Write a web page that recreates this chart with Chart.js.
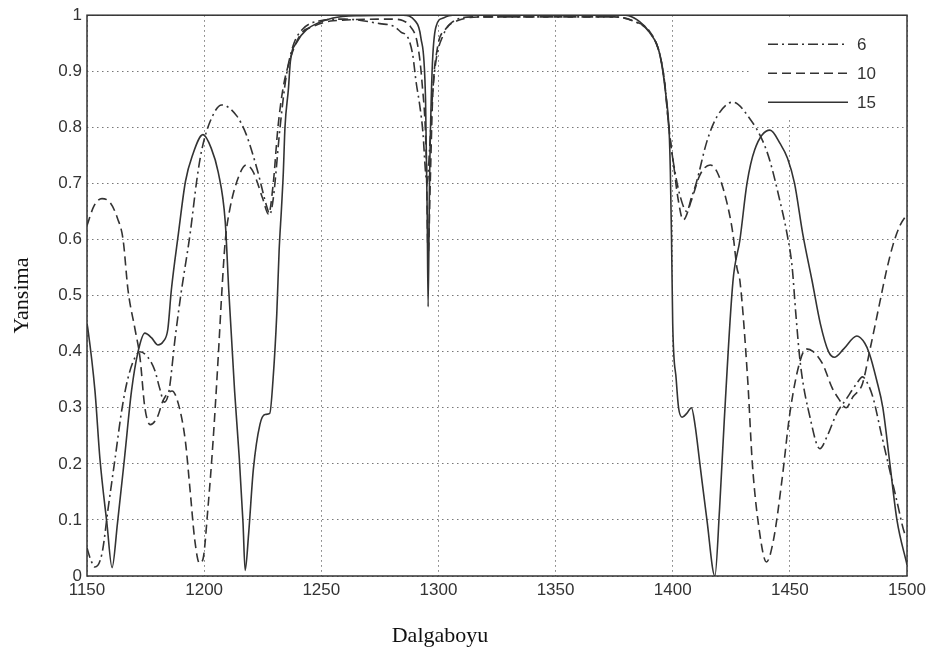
<!DOCTYPE html>
<html>
<head>
<meta charset="utf-8">
<script src="https://cdn.jsdelivr.net/npm/chart.js@4.4.1/dist/chart.umd.min.js"></script>
<style>
    html, body { margin: 0; padding: 0; background: #fff; }
    #wrap { width: 937px; height: 662px; position: relative; }
</style>
</head>
<body>
<div id="wrap"><canvas id="reflChart"></canvas></div>
<script>
    // ============================
    // Data
    // ============================
    const xTicks = [1150, 1200, 1250, 1300, 1350, 1400, 1450, 1500];
    const yTicks = [0, 0.1, 0.2, 0.3, 0.4, 0.5, 0.6, 0.7, 0.8, 0.9, 1];
    const seriesLabels = ["6", "10", "15"];

    // N = 6 (dash-dot)
    const wl6 = [1150, 1151.5, 1153.4, 1156.4, 1159, 1162, 1165, 1167.5, 1170.5, 1172.6, 1176, 1179, 1181, 1183, 1185, 1187.5, 1190, 1194, 1197, 1199, 1202.5, 1207.5, 1214, 1218, 1222.5, 1227, 1228, 1229.5, 1232.4, 1235, 1238, 1242, 1249.5, 1260, 1275, 1281, 1284, 1287, 1289, 1290.5, 1292, 1293.4, 1294.5, 1295.2, 1296.2, 1297.5, 1299, 1302, 1306, 1315, 1375, 1383, 1390, 1394.5, 1396.7, 1398, 1399.5, 1401, 1403, 1406, 1408, 1410, 1414.6, 1419, 1425.7, 1433, 1438.5, 1441.5, 1445.8, 1448.8, 1451, 1452.5, 1454.5, 1458.6, 1462.8, 1466, 1470, 1474, 1478.5, 1481, 1483, 1485.5, 1489, 1495.6, 1499, 1500];
    const r6 = [0.05, 0.03, 0.016, 0.04, 0.12, 0.21, 0.30, 0.353, 0.39, 0.40, 0.39, 0.366, 0.335, 0.31, 0.33, 0.42, 0.5, 0.61, 0.71, 0.76, 0.81, 0.84, 0.82, 0.787, 0.727, 0.655, 0.645, 0.673, 0.80, 0.89, 0.946, 0.975, 0.99, 0.993, 0.985, 0.98, 0.97, 0.96, 0.93, 0.88, 0.84, 0.79, 0.72, 0.70, 0.76, 0.86, 0.92, 0.964, 0.988, 0.997, 0.997, 0.99, 0.97, 0.93, 0.875, 0.815, 0.76, 0.72, 0.68, 0.65, 0.675, 0.70, 0.775, 0.82, 0.845, 0.815, 0.775, 0.74, 0.668, 0.61, 0.55, 0.47, 0.378, 0.283, 0.227, 0.25, 0.29, 0.315, 0.343, 0.355, 0.345, 0.318, 0.254, 0.135, 0.076, 0.07];

    // N = 10 (dashed)
    const wl10 = [1150, 1153, 1156.4, 1160, 1163, 1165.4, 1167.5, 1170.5, 1172.6, 1174.7, 1177, 1180, 1182.5, 1186.3, 1189, 1192, 1194, 1196, 1198, 1199.5, 1201.6, 1203.8, 1206, 1207.6, 1209, 1211, 1215, 1218, 1221, 1225, 1227.5, 1229.5, 1231.5, 1233.7, 1236.6, 1241, 1246.5, 1255, 1280, 1285, 1288, 1291, 1293, 1294.8, 1295.6, 1296.5, 1297.5, 1299.5, 1303, 1308, 1320, 1375, 1383, 1390, 1394.5, 1396.7, 1398, 1399.5, 1400.5, 1402, 1404.5, 1408, 1411.6, 1416, 1419, 1423, 1425.7, 1427.4, 1428.7, 1432, 1434, 1437, 1440, 1443, 1446.6, 1450, 1454, 1457, 1460, 1464, 1468, 1471, 1474, 1477, 1481, 1484, 1488.5, 1491, 1494, 1497, 1500];
    const r10 = [0.625, 0.66, 0.673, 0.665, 0.638, 0.6, 0.51, 0.44, 0.39, 0.30, 0.27, 0.283, 0.313, 0.33, 0.307, 0.24, 0.153, 0.064, 0.023, 0.03, 0.12, 0.24, 0.39, 0.51, 0.597, 0.655, 0.715, 0.733, 0.72, 0.673, 0.645, 0.70, 0.80, 0.87, 0.92, 0.965, 0.98, 0.99, 0.993, 0.99, 0.98, 0.95, 0.88, 0.75, 0.57, 0.70, 0.85, 0.94, 0.975, 0.99, 0.997, 0.997, 0.99, 0.972, 0.93, 0.875, 0.815, 0.76, 0.73, 0.68, 0.635, 0.67, 0.715, 0.733, 0.72, 0.668, 0.61, 0.55, 0.526, 0.35, 0.2, 0.08, 0.025, 0.064, 0.17, 0.29, 0.378, 0.405, 0.40, 0.378, 0.336, 0.315, 0.30, 0.32, 0.343, 0.40, 0.49, 0.54, 0.59, 0.625, 0.645];

    // N = 15 (solid)
    const wl15 = [1150, 1150.4, 1153.4, 1155.5, 1158.5, 1160.7, 1163, 1166, 1169, 1171.8, 1174.7, 1177.5, 1180.3, 1182.5, 1184.5, 1186, 1189, 1192, 1195, 1199.5, 1203, 1206, 1209, 1210.5, 1213, 1215, 1216.6, 1217.5, 1219, 1221, 1223.8, 1226, 1228, 1229.4, 1231, 1232, 1233, 1233.8, 1234.5, 1236, 1236.8, 1239.6, 1244, 1248, 1255, 1265, 1285, 1290, 1292.5, 1294.5, 1295.2, 1295.6, 1296.2, 1297.3, 1299, 1302, 1306, 1380, 1386, 1390, 1394.5, 1397, 1398.5, 1399, 1399.5, 1400, 1401.5, 1402.5, 1404, 1406, 1408, 1409.5, 1411.6, 1414.6, 1418, 1420, 1422, 1425.7, 1428.7, 1431.7, 1435, 1441.5, 1446, 1449, 1452, 1455.5, 1459.5, 1463, 1466.5, 1469, 1473, 1478.6, 1482, 1484, 1487, 1489.7, 1492.7, 1495.7, 1500];
    const r15 = [0.45, 0.44, 0.33, 0.21, 0.094, 0.015, 0.094, 0.21, 0.33, 0.40, 0.433, 0.425, 0.412, 0.418, 0.44, 0.51, 0.61, 0.703, 0.75, 0.787, 0.763, 0.72, 0.632, 0.51, 0.33, 0.21, 0.094, 0.01, 0.076, 0.19, 0.27, 0.288, 0.29, 0.35, 0.467, 0.58, 0.655, 0.72, 0.80, 0.87, 0.917, 0.952, 0.975, 0.985, 0.995, 0.999, 1.0, 0.99, 0.96, 0.85, 0.65, 0.48, 0.70, 0.9, 0.98, 0.995, 1.0, 1.0, 0.988, 0.97, 0.93, 0.86, 0.79, 0.72, 0.60, 0.45, 0.35, 0.30, 0.283, 0.29, 0.30, 0.27, 0.2, 0.1, 0.0, 0.12, 0.277, 0.525, 0.6, 0.7, 0.76, 0.795, 0.77, 0.745, 0.70, 0.61, 0.526, 0.45, 0.40, 0.39, 0.405, 0.428, 0.415, 0.396, 0.35, 0.3, 0.2, 0.1, 0.02];

    // ============================
    // Layout / style
    // ============================
    const AREA = { left: 87, right: 907, top: 13, bottom: 576 };
    const W = 937, H = 662;
    const LINE = "#333";
    const TICK_FONT = { family: "'Liberation Sans', Arial, sans-serif", size: 17 };
    const GRID = { color: "#777", lineWidth: 1, drawTicks: false };
    const GRID_BORDER = { display: false, dash: [1.5, 3.5] };   // v4: border.dash = dash of the grid lines

    function pts(xs, ys) {
        return xs.map((x, i) => ({ x: x, y: ys[i] }));
    }

    function fmtY(v) {
        return String(Number(v.toFixed(1)));
    }

    // solid box round the axes (MATLAB style)
    const axesBox = {
        id: "axesBox",
        afterDatasetsDraw(chart) {
            const a = chart.chartArea, ctx = chart.ctx;
            ctx.save();
            ctx.strokeStyle = "#333";
            ctx.lineWidth = 1.5;
            ctx.strokeRect(a.left, a.top, a.right - a.left, a.bottom - a.top);
            ctx.restore();
        }
    };

    // legend sits inside the axes, top right, on a white patch
    const insideLegend = {
        id: "insideLegend",
        beforeDatasetsDraw(chart) {
            const a = chart.chartArea, ctx = chart.ctx;
            ctx.save();
            ctx.fillStyle = "#fff";
            ctx.fillRect(a.right - 155, a.top + 2, 152, 102);
            ctx.restore();
        },
        afterDatasetsDraw(chart) {
            const a = chart.chartArea, ctx = chart.ctx;
            chart.data.datasets.forEach((ds, i) => {
                const y = a.top + 29 + i * 29;
                ctx.save();
                ctx.strokeStyle = ds.borderColor;
                ctx.lineWidth = ds.borderWidth;
                ctx.setLineDash(ds.borderDash || []);
                ctx.beginPath();
                ctx.moveTo(a.right - 139, y);
                ctx.lineTo(a.right - 59, y);
                ctx.stroke();
                ctx.setLineDash([]);
                ctx.fillStyle = "#333";
                ctx.font = TICK_FONT.size + "px " + TICK_FONT.family;
                ctx.textBaseline = "middle";
                ctx.fillText(ds.label, a.right - 50, y + 1);
                ctx.restore();
            });
        }
    };

    // x title sits under 1300 in the reference, not under the plot centre
    const xTitle = {
        id: "xTitle",
        afterDraw(chart) {
            const ctx = chart.ctx;
            ctx.save();
            ctx.fillStyle = "#111";
            ctx.font = "22px 'Liberation Serif', 'Times New Roman', serif";
            ctx.textAlign = "center";
            ctx.textBaseline = "middle";
            ctx.fillText("Dalgaboyu", 440, 636);
            ctx.restore();
        }
    };

    const common = { borderColor: LINE, borderWidth: 1.6, pointRadius: 0, fill: false, cubicInterpolationMode: "monotone" };

    new Chart(document.getElementById("reflChart"), {
        type: "line",
        data: {
            datasets: [
                Object.assign({ label: seriesLabels[0], data: pts(wl6, r6), borderDash: [10, 4, 2, 4] }, common),
                Object.assign({ label: seriesLabels[1], data: pts(wl10, r10), borderDash: [9, 5] }, common),
                Object.assign({ label: seriesLabels[2], data: pts(wl15, r15), borderDash: [] }, common)
            ]
        },
        options: {
            responsive: true,
            maintainAspectRatio: false,
            animation: false,
            layout: { padding: { top: AREA.top, right: W - AREA.right, left: 0, bottom: 0 } },
            plugins: { legend: { display: false }, tooltip: { enabled: false } },
            scales: {
                x: {
                    type: "linear",
                    position: "bottom",
                    min: xTicks[0],
                    max: xTicks[xTicks.length - 1],
                    afterBuildTicks: (s) => { s.ticks = xTicks.map(v => ({ value: v })); },
                    afterFit: (s) => { s.height = H - AREA.bottom; },
                    ticks: { color: "#333", font: TICK_FONT, padding: 4, maxRotation: 0, autoSkip: false, callback: (v) => String(v) },
                    grid: GRID,
                    border: GRID_BORDER
                },
                y: {
                    type: "linear",
                    position: "left",
                    min: 0,
                    max: 1,
                    afterBuildTicks: (s) => { s.ticks = yTicks.map(v => ({ value: v })); },
                    afterFit: (s) => { s.width = AREA.left; },
                    ticks: { color: "#333", font: TICK_FONT, padding: 5, callback: (v) => fmtY(v) },
                    grid: GRID,
                    border: GRID_BORDER,
                    title: {
                        display: true,
                        text: "Yansima",
                        color: "#111",
                        font: { family: "'Liberation Serif', 'Times New Roman', serif", size: 22 },
                        padding: { top: 9, bottom: 0 }
                    }
                }
            }
        },
        plugins: [insideLegend, axesBox, xTitle]
    });
</script>
</body>
</html>
